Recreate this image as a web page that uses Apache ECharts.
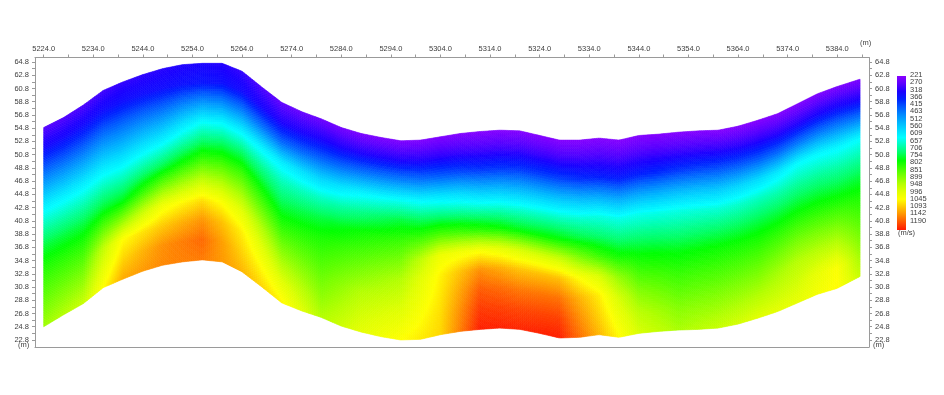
<!DOCTYPE html>
<html><head><meta charset="utf-8">
<script src="https://cdn.jsdelivr.net/npm/echarts@6/dist/echarts.min.js"></script>
<style>html,body{margin:0;padding:0;background:#fff}#c{width:944px;height:395px}</style>
</head><body><div id="c"></div>
<script>
// ---- topography (m) ----
const stations = [5224,5228,5232,5236,5240,5244,5248,5252,5256,5260,5264,5268,5272,5276,5280,5284,5288,5292,5296,5300,5304,5308,5312,5316,5320,5324,5328,5332,5336,5340,5344,5348,5352,5356,5360,5364,5368,5372,5376,5380,5384,5388.6];
const topElev  = [54.9,56.4,58.3,60.5,61.8,62.9,63.8,64.4,64.6,64.6,63.4,61.0,58.7,57.3,56.2,54.9,54.0,53.4,52.9,53.0,53.5,54.0,54.3,54.5,54.4,53.7,53.0,53.0,53.3,53.0,53.7,53.9,54.2,54.4,54.5,55.1,56.0,57.0,58.5,60.0,61.1,62.2];
const botElev  = [24.8,26.6,28.3,30.7,32.0,33.2,34.1,34.6,34.9,34.6,33.1,30.8,28.4,27.2,26.2,24.9,24.0,23.3,22.8,22.9,23.6,24.1,24.4,24.6,24.4,23.8,23.1,23.2,23.6,23.2,23.8,24.1,24.3,24.4,24.6,25.2,26.1,27.1,28.4,29.7,30.6,32.4];

// ---- velocity (m/s) at depth below surface, per column ----
const velX = [5224,5232,5240,5248,5256,5264,5272,5280,5288,5296,5304,5312,5320,5328,5336,5344,5352,5360,5368,5376,5384,5388.6];
const velDepth = [0,3,6,9,12,15,18,21,24,27,30];
const vel_d0  = [270,280,300,310,320,300,260,250,235,230,230,225,225,225,225,225,225,225,225,230,235,235];
const vel_d3  = [328,331,340,338,349,335,317,318,318,317,305,295,297,298,288,289,297,307,305,312,325,318];
const vel_d6  = [412,412,421,430,479,457,431,423,448,456,421,391,391,398,363,366,391,413,419,445,456,452];
const vel_d9  = [501,499,501,526,609,591,584,547,594,613,573,530,519,533,502,499,519,536,558,604,595,604];
const vel_d12 = [591,586,582,622,706,699,657,647,686,724,692,659,641,653,627,620,627,636,650,669,664,667];
const vel_d15 = [662,657,662,721,810,792,715,723,763,793,820,787,747,754,701,687,686,703,713,731,725,726];
const vel_d18 = [728,723,741,847,922,874,774,773,809,847,971,983,937,923,797,754,746,763,770,792,789,774];
const vel_d21 = [775,779,864,977,1026,955,835,805,854,900,1005,1093,1050,1051,939,809,787,802,815,852,854,810];
const vel_d24 = [810,826,996,1043,1090,1009,895,837,900,932,1015,1136,1112,1117,1011,864,824,842,860,905,920,847];
const vel_d27 = [845,873,1033,1093,1125,1035,956,868,930,964,1025,1164,1153,1157,1035,910,862,881,905,933,990,884];
const vel_d30 = [880,920,1070,1100,1110,1060,1005,900,955,996,1030,1185,1180,1185,1060,940,890,920,950,960,1000,920];
const velRows = [vel_d0,vel_d3,vel_d6,vel_d9,vel_d12,vel_d15,vel_d18,vel_d21,vel_d24,vel_d27,vel_d30];

// ---- tick labels ----
const xLabels = [5224,5234,5244,5254,5264,5274,5284,5294,5304,5314,5324,5334,5344,5354,5364,5374,5384];
const xTicks = [5224,5229,5234,5239,5244,5249,5254,5259,5264,5269,5274,5279,5284,5289,5294,5299,5304,5309,5314,5319,5324,5329,5334,5339,5344,5349,5354,5359,5364,5369,5374,5379,5384,5389];
const yLabels = [22.8,24.8,26.8,28.8,30.8,32.8,34.8,36.8,38.8,40.8,42.8,44.8,46.8,48.8,50.8,52.8,54.8,56.8,58.8,60.8,62.8,64.8];
const yTicks = [22.8,23.8,24.8,25.8,26.8,27.8,28.8,29.8,30.8,31.8,32.8,33.8,34.8,35.8,36.8,37.8,38.8,39.8,40.8,41.8,42.8,43.8,44.8,45.8,46.8,47.8,48.8,49.8,50.8,51.8,52.8,53.8,54.8,55.8,56.8,57.8,58.8,59.8,60.8,61.8,62.8,63.8,64.8];
const legendValues = [221,270,318,366,415,463,512,560,609,657,706,754,802,851,899,948,996,1045,1093,1142,1190];

function seg(xs, x) {
  let i = 0;
  while (i < xs.length - 2 && x > xs[i + 1]) i++;
  let t = (x - xs[i]) / (xs[i + 1] - xs[i]);
  t = Math.max(0, Math.min(1, t));
  return [i, t];
}
function lin(xs, ys, x) { const [i, t] = seg(xs, x); return ys[i] + (ys[i + 1] - ys[i]) * t; }
function velAt(x, d) {
  const [i, tx] = seg(velX, x);
  const [j, td] = seg(velDepth, d);
  const a = velRows[j][i], b = velRows[j][i + 1], c = velRows[j + 1][i], e = velRows[j + 1][i + 1];
  return (a * (1 - tx) + b * tx) * (1 - td) + (c * (1 - tx) + e * tx) * td;
}

const cells = [];
const xs0 = stations[0], xs1 = stations[stations.length - 1];
const nx = Math.round((xs1 - xs0) / 0.4), dx = (xs1 - xs0) / nx, ns = 84;
const maxDepth = velDepth[velDepth.length - 1];
for (let i = 0; i < nx; i++) {
  const x0 = xs0 + i * dx, x1 = x0 + dx;
  for (let j = 0; j < ns; j++) {
    const s0 = j / ns, s1 = (j + 1) / ns;
    cells.push([x0, x1, s0, s1, velAt((x0 + x1) / 2, (s0 + s1) / 2 * maxDepth)]);
  }
}

const colors = ['#8a00ff','#5a00ff','#1c00ff','#0020ff','#0058ff','#0088ff','#00b4ff','#00dcff','#00ffff','#00ffb4','#00ff64','#00ff00','#40ff00','#7cff00','#b4ff00','#e0ff00','#ffff00','#ffc800','#ff9000','#ff5400','#ff1800'];
const axisCol = '#9a9a9a', txtCol = '#404040', fs = 7.5, ff = 'Arial, "Liberation Sans", sans-serif';

const chart = echarts.init(document.getElementById('c'), null, {renderer: 'canvas'});
const yAxisBase = (pos) => ({
  type: 'value', position: pos, min: 21.74, max: 65.48,
  axisLine: {show: true, lineStyle: {color: axisCol, width: 1}},
  axisTick: {show: true, customValues: yTicks, length: 3, lineStyle: {color: axisCol}},
  axisLabel: {customValues: yLabels, formatter: v => v.toFixed(1), fontSize: fs, fontFamily: ff, color: txtCol, margin: 6},
  splitLine: {show: false}
});
const graphics = [{
  type: 'rect', shape: {x: 897, y: 76, width: 9, height: 154},
  style: {fill: new echarts.graphic.LinearGradient(0, 0, 0, 1,
    colors.map((c, i) => ({offset: i / (colors.length - 1), color: c})))}
}];
legendValues.forEach((v, i) => graphics.push({
  type: 'text', x: 910, y: 75 + i * 7.28,
  style: {text: String(v), fill: txtCol, font: fs + 'px ' + ff, verticalAlign: 'middle', align: 'left'}
}));
graphics.push({type: 'text', x: 898, y: 233, style: {text: '(m/s)', fill: txtCol, font: fs + 'px ' + ff, verticalAlign: 'middle'}});
graphics.push({type: 'text', x: 860, y: 43, style: {text: '(m)', fill: txtCol, font: fs + 'px ' + ff, verticalAlign: 'middle'}});
graphics.push({type: 'text', x: 18, y: 345, style: {text: '(m)', fill: txtCol, font: fs + 'px ' + ff, verticalAlign: 'middle'}});
graphics.push({type: 'text', x: 873, y: 345, style: {text: '(m)', fill: txtCol, font: fs + 'px ' + ff, verticalAlign: 'middle'}});

chart.setOption({
  animation: false,
  backgroundColor: '#fff',
  grid: {left: 35, right: 75, top: 57.5, bottom: 48, containLabel: false, outerBoundsMode: 'none'},
  xAxis: [{
    type: 'value', position: 'top', min: 5222.25, max: 5390.4,
    axisLine: {show: true, lineStyle: {color: axisCol}},
    axisTick: {show: true, customValues: xTicks, length: 3, lineStyle: {color: axisCol}},
    axisLabel: {customValues: xLabels, formatter: v => v.toFixed(1), fontSize: fs, fontFamily: ff, color: txtCol, margin: 5},
    splitLine: {show: false}
  }, {
    type: 'value', position: 'bottom', min: 5222.25, max: 5390.4,
    axisLine: {show: true, lineStyle: {color: axisCol}},
    axisTick: {show: false}, axisLabel: {show: false}, splitLine: {show: false}
  }],
  yAxis: [yAxisBase('left'), yAxisBase('right')],
  visualMap: {
    type: 'continuous', min: 221, max: 1190, dimension: 4, seriesIndex: 0,
    show: false, inRange: {color: colors}
  },
  graphic: graphics,
  series: [{
    type: 'custom', xAxisIndex: 0, yAxisIndex: 0, progressive: 0, silent: true,
    data: cells,
    renderItem: function (params, api) {
      const x0 = api.value(0), x1 = api.value(1), s0 = api.value(2), s1 = api.value(3);
      const t0 = lin(stations, topElev, x0), t1 = lin(stations, topElev, x1);
      const b0 = lin(stations, botElev, x0), b1 = lin(stations, botElev, x1);
      const pts = [
        api.coord([x0, t0 - s0 * (t0 - b0)]),
        api.coord([x1, t1 - s0 * (t1 - b1)]),
        api.coord([x1, t1 - s1 * (t1 - b1)]),
        api.coord([x0, t0 - s1 * (t0 - b0)])
      ];
      const c = api.visual('color');
      return {type: 'polygon', shape: {points: pts}, style: {fill: c, stroke: c, lineWidth: 0.6}, silent: true};
    }
  }]
});
</script></body></html>
